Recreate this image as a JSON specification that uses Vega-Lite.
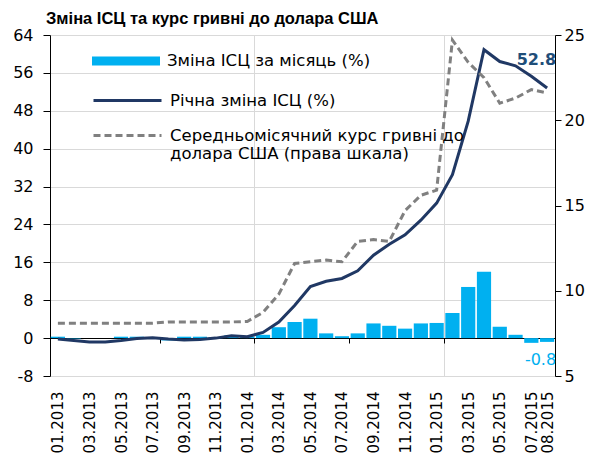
{
  "$schema": "https://vega.github.io/schema/vega-lite/v6.json",
  "width": 505,
  "height": 341,
  "autosize": "none",
  "padding": {"left": 50, "top": 35, "right": 41, "bottom": 80},
  "background": "white",
  "config": {
    "font": "DejaVu Sans",
    "view": {"stroke": null},
    "axis": {"labelFont": "DejaVu Sans", "labelColor": "black", "labelFontSize": 16},
    "legend": {"labelFont": "DejaVu Sans", "labelFontSize": 16.5, "labelColor": "black"}
  },
  "title": {
    "text": "Зміна ІСЦ та курс гривні до долара США",
    "anchor": "start",
    "frame": "group",
    "font": "Liberation Sans",
    "fontSize": 16.5,
    "fontWeight": "bold",
    "color": "black",
    "offset": 0,
    "dx": -4
  },
  "data": {
    "values": [
      {"month": "01.2013", "cpi_m": 0.3, "cpi_y": -0.2, "fx": 8.1},
      {"month": "02.2013", "cpi_m": -0.1, "cpi_y": -0.5, "fx": 8.1},
      {"month": "03.2013", "cpi_m": 0.0, "cpi_y": -0.8, "fx": 8.1},
      {"month": "04.2013", "cpi_m": 0.0, "cpi_y": -0.8, "fx": 8.1},
      {"month": "05.2013", "cpi_m": 0.3, "cpi_y": -0.5, "fx": 8.1},
      {"month": "06.2013", "cpi_m": 0.3, "cpi_y": -0.1, "fx": 8.1},
      {"month": "07.2013", "cpi_m": -0.1, "cpi_y": 0.1, "fx": 8.1},
      {"month": "08.2013", "cpi_m": -0.5, "cpi_y": -0.2, "fx": 8.17},
      {"month": "09.2013", "cpi_m": 0.3, "cpi_y": -0.4, "fx": 8.17},
      {"month": "10.2013", "cpi_m": 0.3, "cpi_y": -0.3, "fx": 8.17},
      {"month": "11.2013", "cpi_m": 0.2, "cpi_y": 0.0, "fx": 8.17},
      {"month": "12.2013", "cpi_m": 0.6, "cpi_y": 0.5, "fx": 8.17},
      {"month": "01.2014", "cpi_m": 0.3, "cpi_y": 0.3, "fx": 8.2},
      {"month": "02.2014", "cpi_m": 0.7, "cpi_y": 1.2, "fx": 8.73},
      {"month": "03.2014", "cpi_m": 2.3, "cpi_y": 3.4, "fx": 9.8},
      {"month": "04.2014", "cpi_m": 3.4, "cpi_y": 6.9, "fx": 11.6},
      {"month": "05.2014", "cpi_m": 4.1, "cpi_y": 10.9, "fx": 11.7},
      {"month": "06.2014", "cpi_m": 1.0, "cpi_y": 12.0, "fx": 11.8},
      {"month": "07.2014", "cpi_m": 0.4, "cpi_y": 12.6, "fx": 11.7},
      {"month": "08.2014", "cpi_m": 1.0, "cpi_y": 14.2, "fx": 12.9},
      {"month": "09.2014", "cpi_m": 3.1, "cpi_y": 17.5, "fx": 13.0},
      {"month": "10.2014", "cpi_m": 2.6, "cpi_y": 19.8, "fx": 12.9},
      {"month": "11.2014", "cpi_m": 2.0, "cpi_y": 21.8, "fx": 14.7},
      {"month": "12.2014", "cpi_m": 3.1, "cpi_y": 24.9, "fx": 15.6},
      {"month": "01.2015", "cpi_m": 3.2, "cpi_y": 28.5, "fx": 15.9},
      {"month": "02.2015", "cpi_m": 5.3, "cpi_y": 34.5, "fx": 24.7},
      {"month": "03.2015", "cpi_m": 10.8, "cpi_y": 45.8, "fx": 23.4},
      {"month": "04.2015", "cpi_m": 14.0, "cpi_y": 60.9, "fx": 22.5},
      {"month": "05.2015", "cpi_m": 2.4, "cpi_y": 58.4, "fx": 21.0},
      {"month": "06.2015", "cpi_m": 0.7, "cpi_y": 57.5, "fx": 21.3},
      {"month": "07.2015", "cpi_m": -1.0, "cpi_y": 55.3, "fx": 21.8},
      {"month": "08.2015", "cpi_m": -0.8, "cpi_y": 52.8, "fx": 21.6}
    ]
  },
  "layer": [
    {
      "mark": {"type": "bar", "color": "#00B0F0"},
      "encoding": {
        "x": {
          "field": "month", "type": "ordinal", "sort": null,
          "scale": {"paddingInner": 0.1, "paddingOuter": 0.05},
          "axis": {
            "title": null, "orient": "bottom", "domain": false, "ticks": false,
            "tickBand": "extent",
            "grid": true, "gridColor": "#D9D9D9", "gridWidth": 1,
            "gridOpacity": {"condition": {"test": "datum.value === '01.2014' || datum.value === '01.2015'", "value": 1}, "value": 0},
            "labelAngle": -90, "labelPadding": 15, "labelOverlap": false, "labelBound": false, "labelFontSize": 15,
            "labelExpr": "(parseInt(substring(datum.value, 0, 2)) % 2 == 1 || datum.value == '08.2015') ? datum.value : ''"
          }
        },
        "y": {
          "field": "cpi_m", "type": "quantitative",
          "scale": {"domain": [-8, 64], "nice": false, "zero": false},
          "axis": {
            "title": null, "orient": "left", "values": [-8, 0, 8, 16, 24, 32, 40, 48, 56, 64],
            "labelExpr": "'' + datum.value",
            "domainColor": "black", "tickColor": "black", "tickSize": 7, "labelPadding": 10,
            "grid": true, "gridColor": "#D9D9D9", "gridWidth": 1
          }
        },
        "color": {
          "datum": "Зміна ІСЦ за місяць (%)",
          "scale": {"range": ["#00B0F0"]},
          "legend": {
            "orient": "none", "legendX": 42, "legendY": -8, "title": null, "padding": 0,
            "symbolType": "M-1,-0.13H1V0.13H-1Z", "symbolSize": 4624, "symbolStrokeWidth": 0,
            "labelOffset": 7, "labelLimit": 0
          }
        }
      }
    },
    {
      "mark": {"type": "line", "color": "#203864", "strokeWidth": 3},
      "encoding": {
        "x": {
          "field": "month", "type": "ordinal", "sort": null,
          "axis": {
            "title": null, "orient": "bottom", "offset": -38, "labels": false, "grid": false,
            "domain": true, "domainColor": "black", "domainWidth": 1,
            "tickBand": "extent", "tickColor": "black", "tickSize": 5,
            "tickOpacity": {"condition": {"test": "datum.value === '07.2013' || datum.value === '01.2014' || datum.value === '07.2014' || datum.value === '01.2015'", "value": 1}, "value": 0}
          }
        },
        "y": {
          "field": "cpi_y", "type": "quantitative",
          "scale": {"domain": [-8, 64], "nice": false, "zero": false},
          "axis": null
        },
        "color": {
          "datum": "Річна зміна ІСЦ (%)",
          "scale": {"range": ["#203864"]},
          "legend": {
            "orient": "none", "legendX": 42, "legendY": 30, "title": null, "padding": 0,
            "symbolType": "stroke", "symbolSize": 4624, "symbolStrokeWidth": 3,
            "labelOffset": 7, "labelLimit": 0
          }
        }
      }
    },
    {
      "mark": {"type": "line", "color": "#808080", "strokeWidth": 3, "strokeDash": [7, 4]},
      "encoding": {
        "x": {"field": "month", "type": "ordinal", "sort": null, "axis": null},
        "y": {
          "field": "fx", "type": "quantitative",
          "scale": {"domain": [5, 25], "nice": false, "zero": false},
          "axis": {
            "title": null, "orient": "right", "values": [5, 10, 15, 20, 25],
            "domainColor": "black", "tickColor": "black", "tickSize": 6, "labelPadding": 3,
            "grid": false
          }
        },
        "color": {
          "datum": "Середньомісячний курс гривні до долара США (права шкала)",
          "scale": {"range": ["#808080"]},
          "legend": {
            "orient": "none", "legendX": 42, "legendY": 65, "title": null, "padding": 0,
            "symbolType": "stroke", "symbolSize": 4624, "symbolStrokeWidth": 3, "symbolDash": [7, 4],
            "labelOffset": 7, "labelLimit": 0,
            "labelExpr": "['Середньомісячний курс гривні до', 'долара США (права шкала)']"
          }
        }
      }
    },
    {
      "transform": [{"filter": "datum.month === '08.2015'"}],
      "mark": {"type": "text", "color": "#1F4E79", "font": "DejaVu Sans", "fontWeight": "bold", "fontSize": 16, "align": "right", "baseline": "alphabetic", "dx": 9, "dy": -23},
      "encoding": {
        "x": {"field": "month", "type": "ordinal", "sort": null, "axis": null},
        "y": {"field": "cpi_y", "type": "quantitative", "scale": {"domain": [-8, 64], "nice": false, "zero": false}, "axis": null},
        "text": {"field": "cpi_y", "type": "nominal"}
      }
    },
    {
      "transform": [{"filter": "datum.month === '08.2015'"}],
      "mark": {"type": "text", "color": "#00B0F0", "font": "DejaVu Sans", "fontSize": 16, "align": "right", "baseline": "alphabetic", "dx": 9, "dy": 23},
      "encoding": {
        "x": {"field": "month", "type": "ordinal", "sort": null, "axis": null},
        "y": {"field": "cpi_m", "type": "quantitative", "scale": {"domain": [-8, 64], "nice": false, "zero": false}, "axis": null},
        "text": {"field": "cpi_m", "type": "nominal"}
      }
    }
  ],
  "resolve": {"scale": {"y": "independent", "color": "independent"}, "axis": {"x": "independent", "y": "independent"}}
}
